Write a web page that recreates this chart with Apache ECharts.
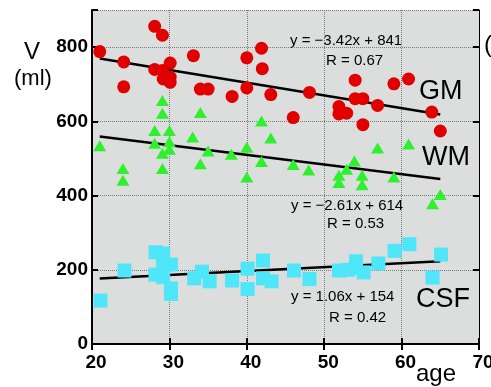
<!DOCTYPE html>
<html>
<head>
<meta charset="utf-8">
<script src="https://cdn.jsdelivr.net/npm/echarts@6/dist/echarts.min.js"></script>
<style>
  html, body { margin: 0; padding: 0; background: #fff; }
  #chart { width: 491px; height: 387px; }
</style>
</head>
<body>
<div id="chart"></div>
<script>
// values: [age, volume ml]
const gmPoints = [
  [21.0, 788], [24.1, 760], [24.1, 693], [28.1, 856], [29.1, 832], [28.1, 740],
  [29.1, 737], [30.1, 757], [29.2, 714], [30.1, 719], [30.1, 705], [33.1, 777],
  [34.0, 687], [35.0, 687], [38.1, 667], [40.0, 771], [40.0, 690], [41.9, 797],
  [42.0, 742], [43.1, 672], [46.0, 610], [48.1, 678], [51.9, 640], [51.9, 620],
  [52.9, 622], [54.0, 711], [54.0, 661], [55.0, 661], [55.0, 591], [56.9, 643],
  [59.0, 701], [60.9, 714], [63.9, 625], [65.0, 574]
];
const wmPoints = [
  [21.0, 534], [24.0, 473], [24.0, 441], [28.1, 575], [28.1, 541], [29.1, 656],
  [29.1, 622], [29.1, 514], [29.1, 473], [30.0, 575], [30.0, 545], [30.0, 525],
  [33.0, 558], [34.0, 624], [34.0, 486], [35.0, 520], [38.0, 511], [40.0, 530],
  [40.0, 450], [41.9, 601], [41.9, 492], [43.1, 555], [46.0, 484], [48.0, 469],
  [51.9, 455], [51.9, 435], [52.9, 471], [53.9, 493], [54.9, 455], [54.9, 429],
  [56.9, 528], [59.0, 450], [60.9, 539], [64.0, 378], [65.0, 403]
];
const csfPoints = [
  [21.1, 117], [24.2, 198], [28.2, 247], [29.2, 244], [28.2, 187], [29.2, 212],
  [30.2, 214], [29.2, 180], [30.2, 150], [30.2, 135], [33.2, 177], [34.2, 195],
  [35.2, 169], [38.1, 171], [40.1, 203], [40.1, 148], [42.1, 225], [42.1, 177],
  [43.2, 169], [46.1, 198], [48.1, 175], [51.9, 198], [53.1, 200], [54.1, 223],
  [54.1, 205], [55.1, 193], [57.0, 217], [59.1, 251], [61.0, 269], [64.0, 179],
  [65.1, 241]
];

// regression lines as printed on the chart: slope, intercept, age range
const fitNames = ['GM', 'WM', 'CSF'];
const fitSlope = [-3.42, -2.61, 1.06];
const fitIntercept = [841, 614, 154];
const fitRange = [21, 65];
const fitText = ['y = \u22123.42x + 841', 'y = \u22122.61x + 614', 'y = 1.06x + 154'];
const fitR = ['R = 0.67', 'R = 0.53', 'R = 0.42'];

const xTicks = [20, 70, 10];
const yTicks = [0, 900, 200];

const chart = echarts.init(document.getElementById('chart'));

const tickFont = {
  color: '#000',
  fontFamily: '"Liberation Sans Narrow", "Liberation Sans", sans-serif',
  fontWeight: 'bold',
  fontSize: 19
};
const gridLine = { show: true, lineStyle: { color: '#7a7a7a', type: 'dotted', width: 1 } };

const fitSeries = fitNames.map((name, i) => ({
  name: name + ' fit',
  type: 'line',
  symbol: 'none',
  silent: true,
  lineStyle: { color: '#000', width: 2.5 },
  data: fitRange.map(x => [x, fitSlope[i] * x + fitIntercept[i]]),
  z: 1
}));

function label(text, left, top, size, spacing) {
  return {
    type: 'text', left: left, top: top,
    style: {
      text: text, fill: '#000', fontSize: size,
      fontFamily: '"Liberation Sans", Arial, sans-serif',
      letterSpacing: spacing || 0
    }
  };
}

const option = {
  backgroundColor: '#fff',
  animation: false,
  grid: {
    left: 92, right: 12, top: 10, bottom: 43,
    outerBoundsMode: 'none',
    show: true, backgroundColor: '#dcdedd', borderWidth: 0
  },
  xAxis: [
    {
      type: 'value', min: xTicks[0], max: xTicks[1], interval: xTicks[2],
      axisLine: { lineStyle: { color: '#000', width: 2 } },
      axisTick: { inside: true, length: 6, lineStyle: { color: '#000', width: 2 } },
      axisLabel: Object.assign({ margin: 9, padding: [0, 0, 0, 8] }, tickFont),
      splitLine: gridLine
    },
    {
      type: 'value', position: 'top', min: xTicks[0], max: xTicks[1], interval: xTicks[2],
      axisLine: { show: true, lineStyle: { color: '#000', width: 1 } },
      axisTick: { inside: true, length: 6, lineStyle: { color: '#000', width: 2 } },
      axisLabel: { show: false },
      splitLine: { show: false }
    }
  ],
  yAxis: [
    {
      type: 'value', min: yTicks[0], max: yTicks[1], interval: yTicks[2],
      axisLine: { show: true, lineStyle: { color: '#000', width: 2 } },
      axisTick: { show: true, inside: true, length: 6, lineStyle: { color: '#000', width: 2 } },
      axisLabel: Object.assign({
        margin: 4,
        formatter: v => (v % yTicks[2] === 0 ? String(v) : '')
      }, tickFont),
      splitLine: gridLine
    },
    {
      type: 'value', position: 'right', min: yTicks[0], max: yTicks[1], interval: yTicks[2],
      axisLine: { show: true, lineStyle: { color: '#000', width: 1 } },
      axisTick: { show: true, inside: true, length: 6, lineStyle: { color: '#000', width: 2 } },
      axisLabel: { show: false },
      splitLine: { show: false }
    }
  ],
  series: fitSeries.concat([
    {
      name: 'GM', type: 'scatter', symbol: 'circle', symbolSize: 13,
      itemStyle: { color: '#e00000', opacity: 1 }, data: gmPoints, z: 3
    },
    {
      name: 'WM', type: 'scatter', symbol: 'triangle', symbolSize: [13, 11],
      itemStyle: { color: '#2ef02e', opacity: 1 }, data: wmPoints, z: 3
    },
    {
      name: 'CSF', type: 'scatter', symbol: 'rect', symbolSize: 14,
      itemStyle: { color: '#4ee6f8', opacity: 1 }, data: csfPoints, z: 3
    }
  ]),
  graphic: [
    label('V', 24, 40, 24),
    label('(ml)', 14, 68, 22),
    label('age', 416, 362, 24),
    label('(', 484, 33, 24),
    label('GM', 419, 78, 27),
    label('WM', 422, 144, 27),
    label('CSF', 416, 286, 27),
    label(fitText[0], 290, 33, 15, 0.6),
    label(fitR[0], 326, 53, 15, 0.6),
    label(fitText[1], 291, 198, 15, 0.6),
    label(fitR[1], 327, 216, 15, 0.6),
    label(fitText[2], 291, 289, 15, 0.6),
    label(fitR[2], 329, 310, 15, 0.6)
  ]
};

chart.setOption(option);
</script>
</body>
</html>
